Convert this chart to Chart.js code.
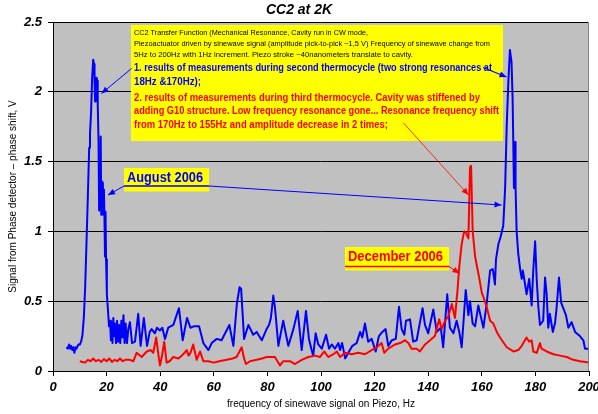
<!DOCTYPE html>
<html><head><meta charset="utf-8">
<script src="https://cdn.jsdelivr.net/npm/chart.js@4.4.1/dist/chart.umd.min.js"></script>
<style>html,body{margin:0;padding:0;background:#fff}#wrap{width:598px;height:414px}</style>
</head><body><div id="wrap"><canvas id="c" width="598" height="414"></canvas></div>
<script>
// ---- data ----
const blueFreq = [5.0,5.5,6.0,6.4,6.8,7.2,7.6,8.0,8.4,8.8,9.2,9.6,10.0,10.5,11.0,11.5,12.0,12.5,13.0,13.5,13.8,14.2,14.6,15.0,15.3,15.5,15.7,15.9,16.1,16.3,16.5,16.7,17.0,17.2,17.4,17.6,17.8,18.0,18.2,18.4,18.6,18.8,19.0,19.2,19.4,19.6,19.8,20.1,20.5,20.9,21.3,21.6,21.9,22.2,22.5,22.8,23.1,23.5,23.9,24.3,24.7,25.1,25.5,25.9,26.3,26.7,27.1,27.6,28.1,28.7,29.5,30.6,31.8,32.7,33.9,35.1,36.1,36.8,38.0,38.8,39.9,40.8,41.8,43.0,44.9,47.0,48.4,50.0,51.3,52.5,54.5,56.1,58.0,59.2,61.1,62.9,65.8,67.3,68.6,69.6,70.2,71.3,72.9,74.7,76.0,77.9,79.7,80.6,81.3,82.2,82.8,84.1,85.9,87.8,89.7,91.3,92.8,94.4,95.5,96.5,97.1,98.0,99.0,100.3,101.9,103.0,104.0,105.2,106.5,107.1,107.9,109.0,110.2,111.7,113.3,114.6,115.4,116.4,117.6,118.9,120.4,121.6,122.9,124.1,125.1,126.4,127.9,129.1,130.1,131.1,131.7,133.2,134.4,135.7,137.9,138.8,140.0,141.9,143.2,144.7,145.6,147.1,148.1,149.4,150.6,151.6,152.5,154.0,155.0,155.6,156.6,157.5,158.7,159.5,160.6,161.8,163.1,164.1,164.9,165.3,166.2,167.0,168.0,168.7,169.3,169.9,170.5,171.1,171.5,172.0,172.4,172.6,173.0,173.6,174.3,174.9,175.3,175.9,176.7,177.7,178.6,179.2,179.9,180.5,181.1,181.7,182.9,183.6,184.2,184.8,185.4,186.5,187.3,187.9,188.8,189.6,190.4,191.4,192.3,193.5,194.8,196.6,197.9,198.5,199.7,200.0];
const blueVals = [0.17,0.16,0.19,0.16,0.18,0.15,0.17,0.13,0.17,0.16,0.18,0.19,0.19,0.21,0.26,0.38,0.60,0.92,1.25,1.60,1.70,1.85,2.10,2.23,2.20,2.08,1.93,2.10,1.96,2.10,2.08,1.90,1.64,1.15,1.35,1.15,1.68,1.12,1.36,1.14,1.35,1.12,1.30,1.10,0.82,1.14,0.80,0.55,0.44,0.32,0.36,0.22,0.35,0.20,0.38,0.25,0.34,0.20,0.36,0.21,0.33,0.20,0.36,0.24,0.40,0.20,0.34,0.20,0.30,0.35,0.20,0.21,0.41,0.18,0.38,0.18,0.28,0.30,0.27,0.31,0.29,0.31,0.23,0.31,0.33,0.45,0.22,0.38,0.31,0.32,0.32,0.20,0.15,0.20,0.23,0.22,0.33,0.18,0.48,0.60,0.59,0.23,0.33,0.26,0.28,0.22,0.30,0.33,0.38,0.54,0.46,0.18,0.36,0.18,0.30,0.43,0.15,0.43,0.23,0.15,0.11,0.27,0.19,0.16,0.26,0.16,0.19,0.16,0.20,0.15,0.20,0.09,0.13,0.18,0.20,0.28,0.24,0.34,0.21,0.23,0.14,0.25,0.28,0.30,0.18,0.22,0.23,0.46,0.30,0.26,0.36,0.37,0.21,0.22,0.45,0.33,0.27,0.44,0.28,0.31,0.17,0.55,0.31,0.27,0.36,0.28,0.17,0.58,0.40,0.50,0.34,0.32,0.47,0.40,0.31,0.48,0.72,0.73,0.62,0.80,0.91,0.96,1.04,1.31,1.76,2.07,2.30,2.21,1.95,1.31,1.64,1.31,1.00,0.84,0.73,0.66,0.72,0.65,0.55,0.66,0.47,0.72,0.93,0.65,0.46,0.33,0.36,0.67,0.55,0.31,0.41,0.28,0.34,0.45,0.67,0.49,0.45,0.40,0.31,0.35,0.28,0.25,0.22,0.16,0.16,0.15];
const redFreq = [10,11,12,13,14,15,16,17,18,19,20,21,22,23,24,25,26,27,28.7,30.0,31.2,33.1,35.0,36.5,37.4,38.5,39.3,39.9,40.6,41.5,42.4,43.5,44.9,46.8,48.6,49.9,50.6,51.3,52.3,53.6,54.9,56.1,58.0,60.0,62.0,64.8,67.0,68.5,70.4,71.3,72.0,73.5,76.0,78.0,79.7,82.8,84.7,85.9,88.4,90.3,92.8,95.3,97.8,99.6,101.2,102.7,104.6,105.9,107.1,109.0,111.5,113.9,116.4,118.9,120.8,122.6,123.6,125.1,127.6,129.5,131.3,132.6,133.8,135.7,136.9,138.8,140.7,142.5,144.1,145.0,146.3,147.5,148.8,150.0,150.9,151.6,152.5,153.4,154.1,155.0,155.6,156.0,156.6,157.5,158.3,159.1,160.0,160.6,161.8,163.1,164.3,165.6,166.8,169.3,171.8,173.6,174.9,176.7,177.7,178.6,179.2,180.5,181.7,182.3,184.2,186.7,189.2,191.7,194.1,196.6,200];
const redVals = [0.07,0.065,0.06,0.08,0.07,0.09,0.07,0.08,0.065,0.085,0.07,0.09,0.065,0.08,0.07,0.09,0.07,0.08,0.08,0.07,0.13,0.10,0.14,0.15,0.13,0.24,0.12,0.04,0.10,0.21,0.06,0.07,0.10,0.09,0.12,0.15,0.11,0.13,0.19,0.08,0.14,0.07,0.07,0.06,0.07,0.08,0.09,0.10,0.17,0.09,0.05,0.07,0.08,0.09,0.10,0.10,0.04,0.07,0.07,0.05,0.08,0.10,0.11,0.10,0.14,0.10,0.12,0.14,0.10,0.13,0.12,0.13,0.12,0.15,0.17,0.20,0.13,0.16,0.19,0.20,0.22,0.20,0.16,0.16,0.14,0.19,0.22,0.25,0.37,0.30,0.36,0.39,0.48,0.38,0.57,0.75,0.91,1.00,0.99,0.95,1.46,1.47,1.00,0.82,0.74,0.66,0.56,0.53,0.46,0.36,0.34,0.28,0.24,0.17,0.14,0.15,0.18,0.24,0.21,0.22,0.14,0.13,0.20,0.16,0.14,0.12,0.11,0.10,0.08,0.07,0.06];
const xTickValues = [0,20,40,60,80,100,120,140,160,180,200];
const yTickValues = [0,0.5,1,1.5,2,2.5];
const yTickLabels = ['0','0.5','1','1.5','2','2.5'];

const toXY = (xs, ys) => xs.map((x, i) => ({x, y: ys[i]}));
const AX = '"Liberation Sans", Arial, sans-serif';
const NOTE = '"Comic Sans MS", "Liberation Sans", sans-serif';

function fitText(ctx, str, x, y, w, font, color) {
  ctx.font = font; ctx.fillStyle = color; ctx.textBaseline = 'middle'; ctx.textAlign = 'left';
  const nat = ctx.measureText(str).width;
  ctx.save(); ctx.translate(x, y); ctx.scale(w / nat, 1); ctx.fillText(str, 0, 0); ctx.restore();
}
function line(ctx, x1, y1, x2, y2, color, w) {
  ctx.strokeStyle = color; ctx.lineWidth = w; ctx.beginPath(); ctx.moveTo(x1, y1); ctx.lineTo(x2, y2); ctx.stroke();
}
function arrow(ctx, x1, y1, x2, y2, color, w) {
  line(ctx, x1, y1, x2, y2, color, w);
  const a = Math.atan2(y2 - y1, x2 - x1), L = 7, H = 3;
  ctx.fillStyle = color; ctx.beginPath(); ctx.moveTo(x2, y2);
  ctx.lineTo(x2 - L * Math.cos(a) + H * Math.sin(a), y2 - L * Math.sin(a) - H * Math.cos(a));
  ctx.lineTo(x2 - L * Math.cos(a) - H * Math.sin(a), y2 - L * Math.sin(a) + H * Math.cos(a));
  ctx.closePath(); ctx.fill();
}

const deco = {
  id: 'deco',
  beforeDraw(chart) {
    const {ctx, chartArea: a} = chart;
    ctx.save();
    ctx.fillStyle = '#C0C0C0';
    ctx.fillRect(a.left, a.top, a.right - a.left, a.bottom - a.top);
    ctx.restore();
  },
  afterDatasetsDraw(chart) {
    const {ctx, chartArea: a} = chart;
    ctx.save();
    line(ctx, a.right - 0.5, a.top, a.right - 0.5, a.bottom, '#808080', 1);
    // big note box
    ctx.fillStyle = '#FFFF00';
    ctx.fillRect(131, 25, 372, 116);
    const sm = '7.5px ' + NOTE, bd = 'bold 10px ' + NOTE;
    fitText(ctx, 'CC2 Transfer Function (Mechanical Resonance, Cavity run in CW mode,', 134, 32.5, 234, sm, '#000');
    fitText(ctx, 'Piezoactuator driven by sinewave signal (amplitude pick-to-pick ~1,5 V) Frequency of sinewave change from', 134, 43.5, 356, sm, '#000');
    fitText(ctx, '5Hz to 200Hz with 1Hz increment. Piezo stroke ~40nanometers translate to cavity.', 134, 54.5, 279, sm, '#000');
    fitText(ctx, '1. results of measurements during second thermocycle (two strong resonances at', 134, 68.5, 358, bd, '#0000FF');
    fitText(ctx, '18Hz &170Hz);', 134, 82, 67, bd, '#0000FF');
    fitText(ctx, '2. results of measurements during third thermocycle. Cavity was stiffened by', 134, 98, 346, bd, '#FF0000');
    fitText(ctx, 'adding G10 structure. Low frequency resonance gone... Resonance frequency shift', 134, 111.5, 365, bd, '#FF0000');
    fitText(ctx, 'from 170Hz to 155Hz and amplitude decrease in 2 times;', 134, 125.5, 254, bd, '#FF0000');
    // label boxes
    ctx.fillStyle = '#FFFF00';
    ctx.fillRect(124, 168, 85, 23.5);
    ctx.fillRect(345, 247, 104, 23.5);
    fitText(ctx, 'August 2006', 127, 178.5, 76, 'bold 14px ' + NOTE, '#0000FF');
    fitText(ctx, 'December 2006', 348, 257.5, 95, 'bold 14px ' + NOTE, '#FF0000');
    // arrows
    arrow(ctx, 131.5, 68.5, 101.5, 93.5, '#0000FF', 1);
    arrow(ctx, 483, 67.5, 506.5, 77, '#0000FF', 1.2);
    line(ctx, 124, 186, 209, 186, '#0000FF', 1.5);
    arrow(ctx, 209, 186, 501.5, 205, '#0000FF', 1);
    arrow(ctx, 124, 186, 108, 195, '#0000FF', 1);
    arrow(ctx, 403.5, 123, 468.5, 195, '#FF0000', 0.8);
    line(ctx, 345, 266.5, 449, 266.5, '#FF0000', 1.5);
    arrow(ctx, 449, 266.5, 459.5, 273.5, '#FF0000', 1);
    // title
    ctx.font = 'italic bold 14px ' + AX; ctx.fillStyle = '#000';
    ctx.textAlign = 'center'; ctx.textBaseline = 'middle';
    ctx.fillText('CC2 at 2K', 299, 10);
    ctx.restore();
  }
};

const tickFont = {family: AX, size: 13, style: 'italic', weight: 'bold'};
new Chart(document.getElementById('c'), {
  type: 'line',
  data: {
    datasets: [
      {data: toXY(blueFreq, blueVals), borderColor: '#0000FF', borderWidth: 2, pointRadius: 0, tension: 0, order: 1, borderJoinStyle: 'round'},
      {data: toXY(redFreq, redVals), borderColor: '#FF0000', borderWidth: 2, pointRadius: 0, tension: 0, order: 0, borderJoinStyle: 'round'}
    ]
  },
  options: {
    responsive: false, animation: false, devicePixelRatio: 1,
    layout: {padding: {top: 22, right: 9, left: 0, bottom: 0}},
    plugins: {legend: {display: false}, tooltip: {enabled: false}, title: {display: false}},
    scales: {
      x: {
        type: 'linear', min: 0, max: 200,
        afterBuildTicks: s => { s.ticks = xTickValues.map(v => ({value: v})); },
        ticks: {font: tickFont, color: '#000', padding: 4, maxRotation: 0, autoSkip: false, callback: v => String(v)},
        grid: {drawOnChartArea: false, drawTicks: true, tickLength: 5, color: '#000'},
        border: {display: true, color: '#000', width: 1},
        title: {display: true, text: 'frequency of sinewave signal on Piezo, Hz', color: '#000', font: {family: AX, size: 10}, padding: {top: 0, bottom: 4}},
        afterFit: s => { s.height = 43; s.paddingLeft = 0; s.paddingRight = 0; }
      },
      y: {
        type: 'linear', min: 0, max: 2.5,
        afterBuildTicks: s => { s.ticks = yTickValues.map(v => ({value: v})); },
        ticks: {font: tickFont, color: '#000', padding: 6, callback: (v) => yTickLabels[yTickValues.indexOf(v)] ?? String(v)},
        grid: {color: '#000', lineWidth: 1, drawTicks: true, tickLength: 5},
        border: {display: true, color: '#000', width: 1},
        title: {display: true, text: 'Signal from Phase detector \u2013 phase shift, V', color: '#000', font: {family: AX, size: 10}, padding: {top: 7, bottom: 0}},
        afterFit: s => { s.width = 53; }
      }
    }
  },
  plugins: [deco]
});
</script></body></html>
